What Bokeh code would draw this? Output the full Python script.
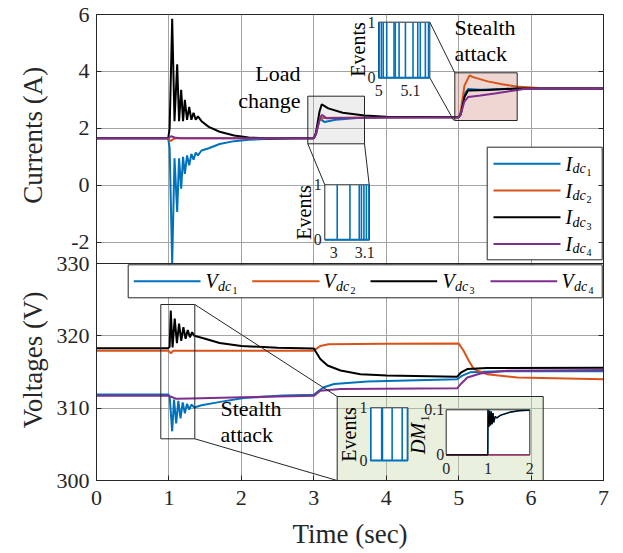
import math
from bokeh.plotting import figure
from bokeh.models import Range1d, LinearAxis, FixedTicker, Grid, Span
from bokeh.embed import file_html
from bokeh.resources import INLINE
from bokeh.core.properties import value

# ---------------- data ----------------
x_ticks = [0, 1, 2, 3, 4, 5, 6, 7]
i_ticks = [-2, 0, 2, 4, 6]
v_ticks = [300, 310, 320, 330]

# DC currents (A)
t_i1 = [0, 0.99, 1.01, 1.045, 1.077, 1.114, 1.14, 1.169, 1.195, 1.22, 1.25, 1.28, 1.31, 1.34, 1.37, 1.40,
        1.45, 1.55, 1.7, 1.9, 2.1, 2.4, 2.7, 3.0, 3.03, 3.08, 3.15, 3.3, 3.6, 4.0, 5.0, 5.03, 5.08, 5.13, 5.3, 5.6, 5.9, 7.0]
i1 = [1.65, 1.65, 1.3, -2.75, 0.95, -0.94, 0.95, -0.12, 1.0, 0.4, 1.05, 0.7, 1.1, 0.9, 1.15, 1.05,
      1.22, 1.3, 1.45, 1.55, 1.6, 1.63, 1.64, 1.65, 1.8, 2.35, 2.22, 2.3, 2.36, 2.38, 2.39, 2.5, 3.2, 3.38, 3.36, 3.38, 3.4, 3.4]
t_i2 = [0, 0.99, 1.02, 1.06, 1.1, 3.0, 3.03, 3.08, 3.12, 3.3, 5.0, 5.03, 5.08, 5.15, 5.2, 5.4, 5.6, 5.8, 6.1, 7.0]
i2 = [1.65, 1.65, 1.55, 1.62, 1.65, 1.65, 1.8, 2.3, 2.36, 2.37, 2.39, 2.6, 3.5, 3.86, 3.8, 3.65, 3.55, 3.47, 3.42, 3.4]
t_i3 = [0, 0.99, 1.01, 1.045, 1.077, 1.114, 1.14, 1.169, 1.195, 1.22, 1.25, 1.28, 1.31, 1.34, 1.37, 1.40,
        1.45, 1.55, 1.7, 1.9, 2.1, 2.4, 2.7, 3.0, 3.03, 3.08, 3.11, 3.2, 3.4, 3.7, 4.0, 5.0, 5.03, 5.08, 5.13, 5.4, 5.8, 7.0]
i3 = [1.65, 1.65, 2.0, 5.85, 2.25, 4.25, 2.25, 3.35, 2.25, 3.0, 2.3, 2.75, 2.3, 2.55, 2.3, 2.42,
      2.25, 2.05, 1.88, 1.75, 1.68, 1.64, 1.65, 1.65, 1.85, 2.6, 2.84, 2.7, 2.55, 2.45, 2.41, 2.39, 2.5, 3.1, 3.33, 3.35, 3.4, 3.4]
t_i4 = [0, 0.99, 1.03, 1.08, 1.15, 3.0, 3.03, 3.08, 3.11, 3.18, 3.4, 4.0, 5.0, 5.03, 5.08, 5.13, 5.3, 5.5, 5.7, 5.9, 6.1, 7.0]
i4 = [1.65, 1.65, 1.72, 1.68, 1.65, 1.65, 1.8, 2.3, 2.47, 2.35, 2.36, 2.38, 2.39, 2.5, 2.95, 3.1, 3.15, 3.22, 3.3, 3.38, 3.4, 3.4]

# DC voltages (V)
t_v1 = [0, 0.99, 1.01, 1.045, 1.07, 1.10, 1.13, 1.16, 1.19, 1.22, 1.25, 1.28, 1.31, 1.35, 1.45, 1.67, 2.03, 2.58,
        3.0, 3.07, 3.14, 3.28, 3.74, 4.98, 5.05, 5.16, 5.58, 7.0]
v1 = [311.9, 311.9, 311.6, 306.8, 311.2, 307.9, 311.0, 308.6, 310.8, 309.3, 310.6, 309.8, 310.5, 310.1, 310.4, 310.8, 311.4, 311.75,
      311.85, 312.4, 312.9, 313.35, 313.7, 314.0, 314.5, 314.95, 315.1, 315.1]
t_v2 = [0, 0.99, 1.03, 1.06, 3.0, 3.09, 3.2, 4.0, 5.0, 5.07, 5.14, 5.21, 5.39, 5.81, 7.0]
v2 = [317.95, 317.95, 317.6, 317.95, 317.95, 318.6, 318.85, 318.9, 318.95, 317.9, 316.55, 315.4, 314.7, 314.25, 314.0]
t_v3 = [0, 0.99, 1.01, 1.025, 1.05, 1.08, 1.11, 1.14, 1.17, 1.20, 1.23, 1.26, 1.29, 1.32, 1.35, 1.5, 1.7, 2.0, 2.5,
        3.0, 3.09, 3.19, 3.37, 3.645, 4.01, 4.98, 5.03, 5.12, 5.39, 7.0]
v3 = [318.3, 318.3, 318.5, 323.5, 318.4, 322.4, 319.0, 321.7, 319.3, 321.2, 319.6, 320.8, 319.8, 320.5, 320.0, 319.6, 319.0, 318.6, 318.35,
      318.25, 316.8, 315.9, 315.2, 314.7, 314.5, 314.35, 314.9, 315.4, 315.55, 315.6]
t_v4 = [0, 0.99, 1.05, 1.1, 1.3, 2.0, 2.5, 3.0, 3.09, 3.37, 4.98, 5.03, 5.12, 5.3, 5.67, 7.0]
v4 = [311.7, 311.7, 311.5, 311.3, 311.35, 311.5, 311.6, 311.7, 312.4, 312.65, 312.75, 313.35, 314.25, 314.8, 315.17, 315.27]

# inset data
ev_a = [3.011, 3.052, 3.082, 3.089, 3.097, 3.105, 3.113]          # load change events
ev_a_ticks = [3, 3.1]
ev_b = [5.001, 5.008, 5.014, 5.025, 5.048, 5.052, 5.064, 5.084, 5.108, 5.123, 5.131, 5.147, 5.157]
ev_b_ticks = [5, 5.1]
ev_c = [0.01, 0.30, 0.32, 0.58, 0.85, 0.99]
t_dm = [0, 0.995, 1.0, 1.02, 1.04, 1.06, 1.08, 1.10, 1.12, 1.14, 1.17, 1.21, 1.3, 1.54, 1.75, 2.0]
dm_3 = [0, 0, 0.1, 0.062, 0.098, 0.065, 0.096, 0.068, 0.093, 0.072, 0.085, 0.082, 0.088, 0.095, 0.098, 0.099]
t_dm0 = [0, 2]
dm_0 = [0, 0]
dm_xticks = [0, 1, 2]
dm_yticks = [0, 0.1]

i_names = ["1", "2", "3", "4"]

# ---------------- styling / layout ----------------
FONT = "Liberation Serif"
BLUE, ORANGE, BLACK, PURPLE = "#0072BD", "#D95319", "#000000", "#7E2F8E"
COLORS = [BLUE, ORANGE, BLACK, PURPLE]
AX = "#262626"
GRID = "#a3a3a3"
NB = "\u00a0"

W, H = 623, 553
FL, FR, FT, FB = 96, 603, 14, 480
SPLIT = 263
T0, T1 = 0, 7
I_LO, I_HI = -2.75, 6
V_LO, V_HI = 300, 330

cur_pp = (I_HI - I_LO) / (SPLIT - FT)
volt_pp = (V_HI - V_LO) / (FB - SPLIT)
i_range = Range1d(I_HI - (FB - FT) * cur_pp, I_HI)
v_range = Range1d(V_LO, V_HI + (SPLIT - FT) * volt_pp)


def X(px):
    return T0 + (px - FL) * (T1 - T0) / (FR - FL)


def Y(py):
    return I_HI - (py - FT) * cur_pp


def v_as_i(v):
    return Y(SPLIT + (V_HI - v) / volt_pp)


p = figure(width=W, height=H, x_range=Range1d(T0, T1), y_range=i_range,
           output_backend="svg", toolbar_location=None,
           min_border_left=FL, min_border_right=W - FR, min_border_top=FT, min_border_bottom=H - FB)
p.extra_y_ranges = {"v": v_range}
p.background_fill_color = "white"
p.border_fill_color = "white"
p.outline_line_color = AX
p.outline_line_width = 1

# axes
left_ticks = list(i_ticks) + [v_as_i(v) for v in v_ticks]
overrides = {t: str(t) for t in i_ticks}
overrides.update({v_as_i(v): str(v) for v in v_ticks})
for ax in p.yaxis:
    ax.ticker = FixedTicker(ticks=left_ticks)
    ax.major_label_overrides = overrides
    ax.axis_label = "Voltages" + NB + "(V)" + NB * 13 + "Currents" + NB + "(A)"
    ax.axis_label_text_font = FONT
    ax.axis_label_text_font_size = "27px"
    ax.axis_label_text_font_style = "normal"
    ax.axis_label_text_color = AX
    ax.axis_label_standoff = 6
for ax in list(p.xaxis) + list(p.yaxis):
    ax.major_label_text_font = FONT
    ax.major_label_text_font_size = "22px"
    ax.major_label_text_color = AX
    ax.major_tick_in = 5
    ax.major_tick_out = 0
    ax.minor_tick_line_color = None
    ax.axis_line_color = AX
    ax.major_tick_line_color = AX
    ax.major_label_standoff = 7
p.xaxis.ticker = FixedTicker(ticks=x_ticks)
p.xaxis.major_label_standoff = 10
p.xaxis.axis_label = "Time (sec)"
p.xaxis.axis_label_text_font = FONT
p.xaxis.axis_label_text_font_size = "27px"
p.xaxis.axis_label_text_font_style = "normal"
p.xaxis.axis_label_text_color = AX
p.xaxis.axis_label_standoff = 11

r_ax = LinearAxis(ticker=FixedTicker(ticks=left_ticks), major_tick_in=5, major_tick_out=0,
                  minor_tick_line_color=None, axis_line_color=AX, major_tick_line_color=AX,
                  major_label_overrides={t: "" for t in left_ticks})
p.add_layout(r_ax, "right")

# grids
p.xgrid.ticker = FixedTicker(ticks=x_ticks)
p.ygrid.ticker = FixedTicker(ticks=i_ticks)
for g in list(p.xgrid) + list(p.ygrid):
    g.grid_line_color = GRID
    g.grid_line_width = 1
p.add_layout(Grid(dimension=1, ticker=FixedTicker(ticks=v_ticks[:-1]), y_range_name="v",
                  grid_line_color=GRID, grid_line_width=1))
p.add_layout(Span(location=I_LO, dimension="width", line_color=AX, line_width=1))


def quad(l, t, r, b, fill, alpha=1.0, line=AX, lw=1):
    p.quad(left=[X(l)], right=[X(r)], top=[Y(t)], bottom=[Y(b)], fill_color=fill, fill_alpha=alpha,
           line_color=line, line_width=lw)


def seg(x0, y0, x1, y1, color=AX, lw=1):
    p.segment(x0=[X(x0)], y0=[Y(y0)], x1=[X(x1)], y1=[Y(y1)], line_color=color, line_width=lw)


def txt(px, py, s, size, align="center", baseline="middle", style="normal", angle=0.0, color="#000000"):
    p.text(x=[X(px)], y=[Y(py)], text=[s], text_font=value(FONT), text_font_size=f"{size}px",
           text_align=align, text_baseline=baseline, text_font_style=style, angle=angle, text_color=color)


def inset(L, T, R, B, xlim, ylim):
    def fx(u):
        return X(L + (u - xlim[0]) / (xlim[1] - xlim[0]) * (R - L))

    def fy(v):
        return Y(B - (v - ylim[0]) / (ylim[1] - ylim[0]) * (B - T))
    return fx, fy


# highlight boxes (under the curves)
quad(307.3, 95.7, 364, 143.3, "#c8c8c8", 0.3, None)
quad(454.3, 72.3, 516.7, 120, "#c8786e", 0.3, None)
quad(336.7, 396, 542.7, 480, "#c5d7a5", 0.38, None)

# main curves
for t, y, c in zip([t_i1, t_i2, t_i3, t_i4], [i1, i2, i3, i4], COLORS):
    p.line(t, y, line_color=c, line_width=2)
for t, y, c in zip([t_v1, t_v2, t_v3, t_v4], [v1, v2, v3, v4], COLORS):
    p.line(t, y, line_color=c, line_width=2, y_range_name="v")

# box outlines and connectors
quad(307.3, 95.7, 364, 143.3, None, 0, AX)
quad(454.3, 72.3, 516.7, 120, None, 0, AX)
quad(160.3, 304, 194.3, 438.3, None, 0, AX)
quad(336.7, 396, 542.7, 480, None, 0, AX)
seg(307.3, 143.3, 324.3, 184.3)
seg(364, 143.3, 368.7, 184.3)
seg(429.3, 21.7, 454.3, 72.3)
seg(429.3, 77.3, 453.3, 120)
seg(194.3, 304, 336.7, 396)
seg(194.3, 438.3, 336.7, 480)

# annotation texts
txt(300, 73, "Load", 22, align="right")
txt(300, 100, "change", 22, align="right")
txt(454, 27, "Stealth", 22, align="left")
txt(454, 53, "attack", 22, align="left")
txt(220, 408, "Stealth", 22, align="left")
txt(220, 434, "attack", 22, align="left")


def events_inset(L, T, R, B, xlim, ev, ticks, tick_labels, lab_x, lab_y, y_lab_dx=3):
    quad(L, T, R, B, "white", 1.0, AX)
    fx, fy = inset(L, T, R, B, xlim, (0, 1))
    p.segment(x0=[fx(e) for e in ev], y0=[fy(0)] * len(ev), x1=[fx(e) for e in ev], y1=[fy(1)] * len(ev),
              line_color=BLUE, line_width=1.6)
    p.line([fx(xlim[0]), fx(xlim[1])], [fy(0), fy(0)], line_color=BLUE, line_width=2)
    for tk, tl in zip(ticks, tick_labels):
        p.text(x=[fx(tk)], y=[Y(B + 13)], text=[tl], text_font=value(FONT), text_font_size="16px",
               text_align="center", text_baseline="middle", text_color=AX)
    txt(L - y_lab_dx, T, "1", 16, align="right", color=AX)
    txt(L - y_lab_dx, B, "0", 16, align="right", color=AX)
    txt(lab_x, lab_y, "Events", 20, angle=math.pi / 2)


events_inset(324.3, 184.3, 369, 239.3, (2.971, 3.115), ev_a, ev_a_ticks, ["3", "3.1"], 303, 212)
events_inset(378.0, 21.7, 429.3, 77.3, (4.999, 5.161), ev_b, ev_b_ticks, ["5", "5.1"], 357, 49)
events_inset(370.0, 407.3, 407.3, 460, (0, 1), ev_c, [], [], 348, 434)

# DM inset
L, T, R, B = 445.7, 409.3, 529.3, 454.3
quad(L, T, R, B, "white", 1.0, AX)
fx, fy = inset(L, T, R, B, (0, 2), (0, 0.1))
p.line([fx(u) for u in t_dm], [fy(v) for v in dm_3], line_color=BLUE, line_width=1.5)
p.line([fx(u) for u in t_dm0], [fy(v) for v in dm_0], line_color=ORANGE, line_width=1.5)
p.line([fx(u) for u in t_dm0], [fy(v) for v in dm_0], line_color=PURPLE, line_width=1.5, line_alpha=0.8)
p.line([fx(u) for u in t_dm], [fy(v) for v in dm_3], line_color=BLACK, line_width=1.2)
for tk in dm_xticks:
    p.text(x=[fx(tk)], y=[Y(B + 14)], text=[str(tk)], text_font=value(FONT), text_font_size="16px",
           text_align="center", text_baseline="middle", text_color=AX)
for tk, tl in zip(dm_yticks, ["0", "0.1"]):
    p.text(x=[X(L - 2)], y=[fy(tk)], text=[tl], text_font=value(FONT), text_font_size="16px",
           text_align="right", text_baseline="middle", text_color=AX)
txt(417, 438, "DM", 20, style="italic", angle=math.pi / 2)
txt(424, 418, "1", 13, angle=math.pi / 2)


# legends
def sub_text(px, py, main, w_main, size=20):
    txt(px, py, main, size, align="left", style="italic")
    txt(px + w_main, py + 5, "dc", 14, align="left", style="italic")


quad(486.7, 146.7, 601.7, 259.3, "white", 1.0, AX)
for k, (c, n) in enumerate(zip(COLORS, i_names)):
    yy = 163.3 + k * 26.7
    p.line([X(493), X(560)], [Y(yy), Y(yy)], line_color=c, line_width=2)
    sub_text(565, yy, "I", 7)
    txt(586, yy + 9, n, 10, align="left")

quad(127.7, 264.3, 601.7, 297.3, "white", 1.0, AX)
leg_x = [(133.3, 200, 205), (251.7, 319, 323), (370, 436.7, 442), (490, 556.7, 561)]
for (x0, x1, xt), c, n in zip(leg_x, COLORS, i_names):
    yy = 280.7
    p.line([X(x0), X(x1)], [Y(yy), Y(yy)], line_color=c, line_width=2)
    sub_text(xt, yy, "V", 12.5)
    txt(xt + 27, yy + 9, n, 10, align="left")

open("out.html", "w").write(file_html(p, INLINE))
